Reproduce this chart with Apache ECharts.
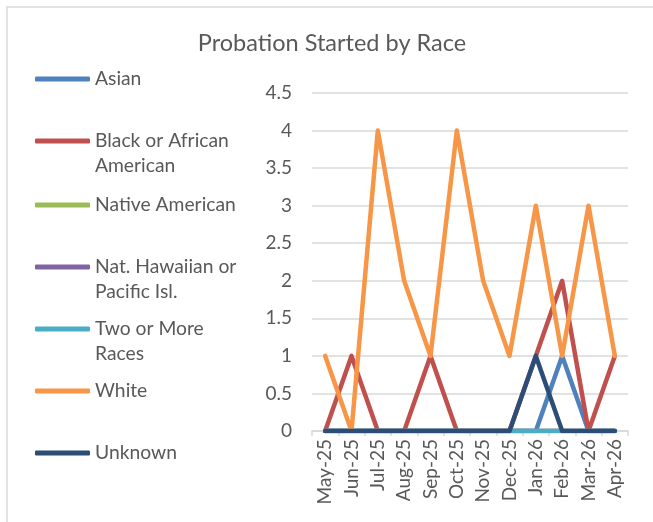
<!DOCTYPE html>
<html>
<head>
<meta charset="utf-8">
<script src="https://cdn.jsdelivr.net/npm/echarts@6/dist/echarts.min.js"></script>
<style>
  html, body { margin: 0; padding: 0; background: #fff; }
  #chart { width: 653px; height: 522px; }
</style>
</head>
<body>
<div id="chart"></div>
<script>
// Monthly counts of probation starts, by race
const months = ['May-25', 'Jun-25', 'Jul-25', 'Aug-25', 'Sep-25', 'Oct-25', 'Nov-25', 'Dec-25', 'Jan-26', 'Feb-26', 'Mar-26', 'Apr-26'];
const asian      = [0, 0, 0, 0, 0, 0, 0, 0, 0, 1, 0, 0];
const black      = [0, 1, 0, 0, 1, 0, 0, 0, 1, 2, 0, 1];
const nativeAm   = [0, 0, 0, 0, 0, 0, 0, 0, 0, 0, 0, 0];
const hawaiian   = [0, 0, 0, 0, 0, 0, 0, 0, 0, 0, 0, 0];
const twoOrMore  = [0, 0, 0, 0, 0, 0, 0, 0, 0, 0, 0, 0];
const white      = [1, 0, 4, 2, 1, 4, 2, 1, 3, 1, 3, 1];
const unknown    = [0, 0, 0, 0, 0, 0, 0, 0, 1, 0, 0, 0];
const yTicks     = [0, 0.5, 1, 1.5, 2, 2.5, 3, 3.5, 4, 4.5];

const seriesDefs = [
  { name: 'Asian', label: 'Asian', data: asian, color: '#4F81BD', y: 79 },
  { name: 'Black or African American', label: 'Black or African\nAmerican', data: black, color: '#C0504D', y: 141 },
  { name: 'Native American', label: 'Native American', data: nativeAm, color: '#9BBB59', y: 205 },
  { name: 'Nat. Hawaiian or Pacific Isl.', label: 'Nat. Hawaiian or\nPacific Isl.', data: hawaiian, color: '#8064A2', y: 267 },
  { name: 'Two or More Races', label: 'Two or More\nRaces', data: twoOrMore, color: '#4BACC6', y: 329 },
  { name: 'White', label: 'White', data: white, color: '#F79646', y: 391 },
  { name: 'Unknown', label: 'Unknown', data: unknown, color: '#2C4D75', y: 453 }
];

const FONT = 'Lato, "Open Sans", sans-serif';
const TEXT = '#595959';
const LH = 25;

// one legend block per entry; wrapped names get an empty leading line so
// the marker stays level with the first line of text
const legends = seriesDefs.map(s => {
  const wrapped = s.label.indexOf('\n') >= 0;
  const text = wrapped ? '\n' + s.label : s.label;
  const half = (wrapped ? 3 : 1) * LH / 2;
  return {
    left: 35,
    top: s.y - half,
    padding: 0,
    orient: 'vertical',
    data: [s.name],
    icon: 'roundRect',
    itemWidth: 55,
    itemHeight: 5,
    itemGap: 5,
    selectedMode: false,
    formatter: () => text,
    textStyle: { fontFamily: FONT, fontSize: 19.3, color: TEXT, lineHeight: LH }
  };
});

const chart = echarts.init(document.getElementById('chart'), null, { renderer: 'canvas' });
chart.setOption({
  backgroundColor: '#fff',
  animation: false,
  title: {
    text: 'Probation Started by Race',
    left: 332, top: 31, textAlign: 'center', padding: 0,
    textStyle: { fontFamily: FONT, fontSize: 23.5, fontWeight: 'normal', color: TEXT }
  },
  legend: legends,
  graphic: [{
    type: 'rect', silent: true, z: -1,
    shape: { x: 7, y: 7, width: 700, height: 560 },
    style: { fill: 'none', stroke: '#d9d9d9', lineWidth: 1.5 }
  }],
  grid: { left: 312, right: 25, top: 93, bottom: 91 },
  xAxis: {
    type: 'category',
    data: months,
    boundaryGap: true,
    axisLine: { lineStyle: { color: '#d9d9d9', width: 1.5 } },
    axisTick: { show: true, length: 5, lineStyle: { color: '#d9d9d9', width: 1.5 } },
    axisLabel: { rotate: 90, fontFamily: FONT, fontSize: 19, color: TEXT, margin: 8, interval: 0 }
  },
  yAxis: {
    type: 'value',
    min: 0, max: 4.5, interval: 0.5,
    axisLine: { show: false },
    axisTick: { show: false },
    splitLine: { lineStyle: { color: '#d9d9d9', width: 1.5 } },
    axisLabel: {
      fontFamily: FONT, fontSize: 19, color: TEXT, margin: 20,
      formatter: v => {
        const t = yTicks.find(k => Math.abs(k - v) < 1e-9);
        return t === undefined ? '' : String(t);
      }
    }
  },
  series: seriesDefs.map(s => ({
    name: s.name,
    type: 'line',
    data: s.data,
    showSymbol: false,
    symbol: 'none',
    color: s.color,
    lineStyle: { width: 4.5, color: s.color, cap: 'round', join: 'round' }
  }))
});
</script>
</body>
</html>
